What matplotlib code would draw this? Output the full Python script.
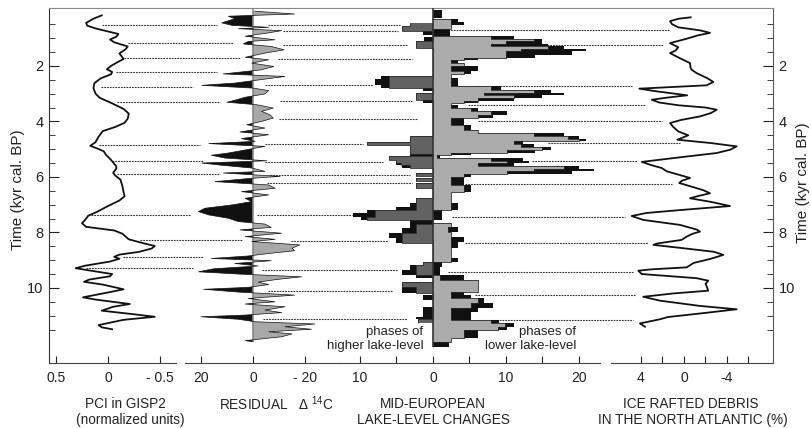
import numpy as np
import matplotlib.pyplot as plt

plt.rcParams['font.family'] = ['Liberation Sans', 'DejaVu Sans']
plt.rcParams['mathtext.fontset'] = 'custom'
plt.rcParams['mathtext.rm'] = 'Liberation Sans'

# ---- PCI in GISP2 (normalized units) ----
pci_t = [0.18, 0.30, 0.45, 0.55, 0.65, 0.75, 0.85, 0.95, 1.05, 1.15, 1.30, 1.40, 1.55, 1.65,
         1.75, 1.87, 2.00, 2.12, 2.22, 2.30, 2.45, 2.62, 2.80, 3.00, 3.15, 3.35, 3.55, 3.72,
         3.90, 4.05, 4.20, 4.35, 4.55, 4.75, 4.88, 4.98, 5.08, 5.20, 5.35, 5.48, 5.62, 5.70,
         5.85, 5.95, 6.10, 6.35, 6.55, 6.70, 6.85, 7.05, 7.25, 7.40, 7.55, 7.67, 7.80, 7.93,
         8.05, 8.12, 8.25, 8.38, 8.49, 8.58, 8.70, 8.80, 8.88, 8.95, 9.05, 9.20, 9.29, 9.37,
         9.50, 9.58, 9.70, 9.78, 9.88, 10.05, 10.15, 10.34, 10.42, 10.58, 10.68, 10.82, 10.95,
         11.04, 11.15, 11.34, 11.42, 11.49]
pci_v = [0.06, 0.14, 0.21, 0.20, 0.12, 0.01, -0.10, -0.08, -0.02, -0.06, -0.19, -0.17, -0.11,
         -0.13, -0.15, -0.09, -0.03, 0.01, -0.04, -0.03, 0.07, 0.13, 0.14, 0.12, 0.08, -0.04,
         -0.15, -0.20, -0.19, -0.16, -0.07, 0.05, 0.09, 0.12, 0.17, 0.10, 0.04, 0.02, -0.02,
         -0.05, -0.08, -0.08, -0.05, -0.07, -0.12, -0.14, -0.15, -0.16, -0.11, 0.00, 0.10, 0.19,
         0.22, 0.25, 0.21, -0.06, -0.14, -0.16, -0.20, -0.33, -0.45, -0.42, -0.30, -0.11, -0.06,
         -0.11, -0.02, 0.22, 0.31, 0.18, -0.04, -0.02, 0.18, 0.23, 0.05, -0.15, -0.02, 0.24,
         0.12, -0.21, -0.05, 0.06, -0.25, -0.45, -0.15, 0.09, 0.06, -0.04]

# ---- Residual delta 14C ----
res_t = [0.03, 0.13, 0.21, 0.30, 0.45, 0.54, 0.61, 0.66, 0.73, 0.81, 0.93, 1.06, 1.12, 1.21,
         1.30, 1.42, 1.54, 1.69, 1.78, 1.90, 2.02, 2.14, 2.29, 2.38, 2.50, 2.62, 2.70, 2.80,
         2.89, 3.01, 3.13, 3.22, 3.31, 3.40, 3.52, 3.64, 3.76, 3.88, 4.00, 4.12, 4.24, 4.38,
         4.48, 4.62, 4.72, 4.80, 4.90, 5.02, 5.14, 5.22, 5.32, 5.42, 5.50, 5.58, 5.68, 5.80,
         5.86, 5.98, 6.06, 6.17, 6.29, 6.41, 6.53, 6.65, 6.77, 6.89, 7.01, 7.13, 7.25, 7.37,
         7.49, 7.61, 7.70, 7.82, 7.91, 8.03, 8.15, 8.25, 8.33, 8.45, 8.57, 8.66, 8.76, 8.85,
         8.94, 9.02, 9.12, 9.21, 9.31, 9.42, 9.50, 9.60, 9.69, 9.79, 9.88, 9.98, 10.05, 10.15,
         10.26, 10.38, 10.50, 10.58, 10.68, 10.80, 10.89, 10.98, 11.04, 11.13, 11.22, 11.30,
         11.40, 11.49, 11.58, 11.66, 11.76, 11.85, 11.90, 11.94]
res_v = [-0.8, -16, 9.5, 7, 12, 8, -6, 5.6, -11, -6, 3, -8.5, 1.8, 3.7, -7, -12, -4.6, 3, -6,
         0.5, -8, -3.3, 11.4, -12.3, -2.7, 7, 19.7, 0, -6, -4.6, 3, 6.3, 10, -1.4, -7.8, -3.3,
         -6.5, -7.8, -3.3, 2.4, -4.6, 5, -6, 4.4, -0.8, 17, -4.6, 2.4, 9.5, 16, 10.8, -5.3,
         19.7, 12, 0.5, -4.6, 11.4, -10.4, 1.8, 14.6, -6, -8.5, 4.4, -6, 3, 0.5, 8, 18.5, 21,
         17, 9.5, 5.6, -4.6, -7, 5, -11, 3, -8.5, 0.5, -18, -15, -16, -6, 1.8, 16, -7, 7, -2,
         15, 21, 5.6, -18.7, -9.7, -2, -6, 1.8, 19, 5.6, -16, 1.8, -8.5, 3, -12.3, -4.6, -11,
         3, 20, 5.6, -0.8, -23.8, -12.3, -22.5, -6, -15, -11, -2, 3, 0]

# ---- Mid-European lake-level changes ----
low_edges = [-0.03, 0.27, 0.31, 0.42, 0.54, 0.66, 0.93, 1.02, 1.11, 1.21, 1.29, 1.38, 1.47,
             1.59, 1.71, 1.77, 1.89, 2.01, 2.17, 2.31, 2.44, 2.74, 2.86, 2.98, 3.06, 3.16,
             3.25, 3.34, 3.40, 3.52, 3.64, 3.76, 3.88, 4.00, 4.12, 4.30, 4.42, 4.54, 4.62,
             4.72, 4.81, 4.93, 5.02, 5.14, 5.22, 5.32, 5.41, 5.51, 5.61, 5.70, 5.80, 5.89,
             6.02, 6.10, 6.29, 6.53, 6.71, 6.95, 7.19, 7.31, 7.55, 7.65, 7.79, 7.97, 8.15,
             8.33, 8.57, 8.93, 9.05, 9.24, 9.54, 9.72, 10.14, 10.26, 10.38, 10.56, 10.74,
             10.86, 11.04, 11.16, 11.28, 11.40, 11.52, 11.64, 11.82, 11.94, 12.12]
low_gray = [0, 0, 2.4, 2.4, 2.4, 0, 7.9, 13.9, 10, 7.9, 15.7, 12, 10, 10, 4.3, 2.4, 4.3, 2.4,
            4.3, 2.4, 2.4, 7.9, 13.9, 7.0, 11.1, 6.1, 4.3, 2.4, 2.4, 5.2, 7.9, 6.1, 2.4, 2.4,
            4.3, 6.1, 13.9, 18.5, 20, 11.1, 12, 15, 10.2, 2.4, 0.5, 7.9, 10.2, 6.1, 18, 13.9,
            10.2, 4.3, 2.4, 2.4, 4.3, 2.4, 2.4, 2.4, 0, 0, 0, 2.4, 2.0, 2.4, 2.4, 2.4, 2.4,
            2.4, 0, 0, 1.0, 6.1, 2.4, 2.4, 6.1, 5.2, 2.4, 2.4, 2.4, 7.9, 9.8, 8.9, 4.3, 4.3,
            2.4, 0]
low_black = [1.3, 0, 3.4, 4.3, 2.4, 2.3, 11.1, 15, 15, 15.7, 18, 21, 19.1, 14, 6.1, 3.4, 4.3,
             6.1, 5.2, 2.4, 3.4, 9.3, 16.2, 18, 15, 11.1, 6.1, 2.4, 3.4, 6.1, 10.2, 8.2, 4.3,
             4.3, 5.2, 6.1, 18, 20, 21, 12.3, 13.9, 16.2, 14, 5.2, 1.0, 12.3, 13.2, 11.1, 20,
             22, 19.1, 5.2, 4.3, 4.3, 5.2, 2.4, 2.4, 3.4, 1.3, 1.3, 0, 2.4, 3.4, 2.4, 4.3, 3.4,
             2.4, 3.4, 1.3, 1.0, 4.3, 6.1, 4.3, 5.2, 7.0, 8.2, 6.1, 5.2, 5.2, 9.1, 11.1, 10.2,
             6.1, 6.1, 2.4, 2.2]

high_edges = [0.45, 0.57, 0.75, 0.87, 0.97, 1.09, 1.35, 2.38, 2.46, 2.68, 2.80, 2.89, 2.98,
              3.22, 3.34, 4.54, 4.72, 4.76, 4.84, 4.96, 5.16, 5.26, 5.38, 5.50, 5.56, 5.68,
              5.86, 5.98, 6.04, 6.16, 6.22, 6.40, 6.77, 6.95, 7.07, 7.19, 7.31, 7.43, 7.55,
              7.70, 7.85, 8.03, 8.21, 8.39, 9.05, 9.17, 9.36, 9.54, 9.66, 9.78, 9.96, 10.20,
              10.26, 10.44, 10.68, 11.04, 11.13, 11.25]
high_dark = [3.2, 4.2, 0, 0, 0, 2.3, 0, 6.0, 6.0, 6.0, 0, 0, 2.3, 0, 0, 3.2, 3.2, 9.0, 3.2,
             3.2, 0, 6.0, 5.1, 4.4, 3.2, 0, 2.3, 0, 2.3, 0, 2.3, 0, 2.3, 2.3, 2.3, 8.0, 8.0,
             9.0, 0, 2.3, 2.3, 4.2, 4.2, 0, 1.4, 2.3, 2.3, 0, 0, 4.2, 2.3, 0, 0, 0, 0, 0, 2.1]
high_black = [3.2, 4.2, 1.4, 0, 1.3, 2.3, 0, 7.1, 8.0, 7.1, 1.4, 0, 2.3, 1.4, 0, 3.2, 3.2,
              9.0, 3.2, 3.2, 3.2, 6.0, 5.1, 5.1, 4.2, 0, 2.3, 0, 2.3, 0, 2.3, 0, 2.3, 3.2,
              5.1, 9.0, 11.0, 9.9, 3.2, 3.2, 4.2, 6.0, 5.1, 0, 1.4, 3.2, 4.2, 2.3, 0, 4.2,
              4.2, 0, 1.4, 0, 1.4, 2.3, 2.1]

# ---- Ice rafted debris in the North Atlantic (%) ----
ird_t = [0.25, 0.30, 0.39, 0.50, 0.61, 0.72, 0.81, 0.90, 1.02, 1.18, 1.33, 1.45, 1.54, 1.70,
         1.90, 2.05, 2.14, 2.26, 2.45, 2.58, 2.70, 2.75, 2.82, 2.92, 3.06, 3.14, 3.22, 3.32,
         3.42, 3.50, 3.58, 3.70, 3.82, 3.95, 4.06, 4.20, 4.36, 4.50, 4.58, 4.66, 4.78, 4.90,
         5.02, 5.14, 5.30, 5.46, 5.58, 5.68, 5.80, 5.92, 6.04, 6.14, 6.22, 6.37, 6.48, 6.59,
         6.70, 6.77, 6.90, 7.05, 7.20, 7.30, 7.41, 7.55, 7.73, 7.90, 7.97, 8.05, 8.15, 8.27,
         8.40, 8.45, 8.57, 8.70, 8.81, 8.95, 9.10, 9.26, 9.33, 9.38, 9.50, 9.65, 9.74, 9.85,
         9.93, 10.10, 10.20, 10.32, 10.46, 10.65, 10.77, 10.90, 11.05, 11.13, 11.28, 11.40]
ird_v = [-0.62, 0.5, 1.3, 1.1, 0.53, -1.5, -2.42, -1.3, -0.25, 1.3, 0.53, 0.8, 1.3, 0.5,
         -0.56, -0.6, -0.71, -1.18, -2.2, -2.73, -2.1, 0.5, 4.16, 2.5, -0.3, 1.5, 3.0, 2.3,
         0.5, -2.0, -3.04, -2.5, -1.5, 0.3, 1.3, 1.0, 0.53, -0.4, 0.1, 0.62, -2.5, -4.9,
         -4.3, -3.04, 0.5, 3.93, 3.0, 2.07, 1.6, 0.5, -0.56, 0.2, 0.44, -0.87, -1.8, -2.42,
         -1.2, -0.56, -2.5, -4.28, 0.5, 3.5, 4.87, 3.79, 0.37, -1.2, -1.49, -0.8, -0.25,
         0.22, 2.5, 2.85, 0.06, -2.8, -3.66, -2.5, -0.9, -0.25, 3.0, 4.25, 3.93, -1.18,
         -2.26, -2.0, -2.1, -2.26, 1.0, 3.79, 2.23, -1.5, -4.9, -2.0, 1.5, 2.23, 4.1, 3.63]

# ---- dotted correlation lines: time, start value, end value ----
c1_t = [0.515, 1.175, 1.733, 2.238, 2.771, 3.312, 4.840, 5.438, 5.888, 7.373, 8.274, 8.897, 9.294]
c1_pci = [0.058, -0.192, -0.154, -0.077, 0.067, -0.087, 0.087, -0.038, -0.087, 0.163, -0.308, -0.144, 0.212]
c1_res = [13.8, 7.7, 5.0, 13.8, 23.1, 12.7, 20.4, 19.2, 12.7, 24.2, 4.2, 19.2, 23.1]

c2_t = [0.544, 0.753, 1.236, 1.741, 2.699, 3.276, 3.903, 4.804, 5.474, 5.921, 6.202, 7.373,
        8.310, 9.355, 10.101, 11.121]
c2_res = [-5.8, -11.5, -11.5, -9.6, -4.6, -10.4, -10, -4.6, -4.6, -6.5, -5.4, -1.5, -14.6,
          -3.5, -5.8, -3.8]
c2_lake = [-4.5, -4.8, -3.4, -2.9, -8.2, -2.9, -2.1, -9.6, -6.8, -3.2, -2.9, -11.1, -6.2,
           -4.9, -5.5, -3.6]

c3_t = [0.724, 1.247, 2.717, 3.420, 3.996, 4.778, 5.427, 6.238, 7.463, 8.382, 9.416, 10.267, 11.139]
c3_lake = [1.6, 15.6, 5.8, 4.8, 6.2, 15.8, 13.6, 4.4, 2.6, 4.4, 2.1, 5.8, 6.0]
c3_ird = [1.3, 1.95, 4.84, 3.63, 2.05, 0.37, 4.37, 1.12, 5.49, 3.35, 4.74, 4.56, 4.74]

W, H = 811, 428
T_TOP, T_BOT = -0.086, 12.706
INK = '#222222'

fig = plt.figure(figsize=(W / 100, H / 100), dpi=100)


def box(x0, x1, y0=8, y1=363):
    return [x0 / W, 1 - y1 / H, (x1 - x0) / W, (y1 - y0) / H]


# outer frame with the time axis on both sides
frame = fig.add_axes(box(49, 773))
frame.set_xlim(0, 1)
frame.set_ylim(T_BOT, T_TOP)
frame.set_xticks([])
frame.spines['bottom'].set_visible(False)
frame.spines['top'].set_color('#888888')
frame.spines['left'].set_color('#333333')
frame.spines['right'].set_color('#555555')
frame.set_yticks([2, 4, 6, 8, 10])
frame.set_yticks(np.arange(0.5, 12.0, 0.5), minor=True)
frame.tick_params(axis='y', which='both', direction='in', left=True, right=True,
                  labelleft=True, labelright=True, labelsize=10.5, colors=INK, pad=4)
frame.tick_params(axis='y', which='major', length=7)
frame.tick_params(axis='y', which='minor', length=4)


def panel(x0, x1, xlim, ticks, labels):
    ax = fig.add_axes(box(x0, x1))
    ax.patch.set_alpha(0)
    ax.set_xlim(*xlim)
    ax.set_ylim(T_BOT, T_TOP)
    for s in ['top', 'left', 'right']:
        ax.spines[s].set_visible(False)
    ax.spines['bottom'].set_color('#444444')
    ax.set_yticks([])
    ax.set_xticks(ticks)
    ax.set_xticklabels(labels)
    ax.tick_params(axis='x', direction='in', length=5, labelsize=10, pad=6, colors=INK)
    return ax


ax_pci = panel(49, 176, (0.567, -0.654), [0.5, 0, -0.5], ['0.5', '0', '- 0.5'])
ax_res = panel(185, 340, (26.15, -33.46), [20, 0, -20], ['20', '0', '- 20'])
ax_lake = panel(340, 600, (-12.74, 22.88), [-10, -5, 0, 5, 10, 15, 20],
                ['10', '', '0', '', '10', '', '20'])
ax_ird = panel(611, 773, (6.79, -8.28), [4, 2, 0, -2, -4, -6], ['4', '', '0', '', '-4', ''])

# curves
ax_pci.plot(pci_v, pci_t, color='#111111', lw=1.3)
ax_ird.plot(ird_v, ird_t, color='#111111', lw=1.3)

# residual 14C
rt = np.array(res_t)
rv = np.array(res_v)
ax_res.vlines(0, T_TOP, rt[-1], color='#888888', lw=1.2)
ax_res.fill_betweenx(rt, 0, rv, where=rv >= 0, interpolate=True, color='#111111', lw=0)
ax_res.fill_betweenx(rt, 0, rv, where=rv <= 0, interpolate=True, color='#a8a8a8', lw=0)
ax_res.plot(rv, rt, color='#111111', lw=0.5)


# lake-level histograms: black totals behind, grey parts in front with a thin outline
def hist(ax, edges, back, front, sign, front_color):
    e = np.array(edges)
    ax.stairs(sign * np.array(back), e, orientation='horizontal', baseline=0, fill=True,
              color='#111111', lw=0)
    ax.stairs(sign * np.array(front), e, orientation='horizontal', baseline=0, fill=True,
              color=front_color, lw=0)
    ax.stairs(sign * np.array(front), e, orientation='horizontal', baseline=None,
              color='#2a2a2a', lw=0.6)


hist(ax_lake, low_edges, low_black, low_gray, 1, '#ababab')
hist(ax_lake, high_edges, high_black, high_dark, -1, '#626262')
ax_lake.vlines(0, T_TOP, low_edges[-1], color='#333333', lw=1.2)

ax_lake.text(-1.3, 11.84, 'phases of\nhigher lake-level', ha='right', va='center',
             fontsize=9.5, color=INK, linespacing=1.25)
ax_lake.text(19.6, 11.84, 'phases of\nlower lake-level', ha='right', va='center',
             fontsize=9.5, color=INK, linespacing=1.25)


# dotted correlation lines drawn on the frame
def to_frame(ax, x):
    xd = ax.transData.transform((x, 0))[0]
    return frame.transAxes.inverted().transform((xd, 0))[0]


def links(ts, a0, x0s, a1, x1s):
    for t, x0, x1 in zip(ts, x0s, x1s):
        frame.plot([to_frame(a0, x0), to_frame(a1, x1)], [t, t],
                   transform=frame.get_yaxis_transform(), color='#333333',
                   lw=0.8, ls=(0, (1.6, 0.9)))


links(c1_t, ax_pci, c1_pci, ax_res, c1_res)
links(c2_t, ax_res, c2_res, ax_lake, c2_lake)
links(c3_t, ax_lake, c3_lake, ax_ird, c3_ird)

# labels
fig.text(18 / W, 1 - 190 / H, 'Time (kyr cal. BP)', rotation=90, ha='center', va='center',
         fontsize=11, color=INK)
fig.text(803 / W, 1 - 183 / H, 'Time (kyr cal. BP)', rotation=90, ha='center', va='center',
         fontsize=11, color=INK)

lab = dict(ha='center', va='center', fontsize=9.8, color=INK)
fig.text(125 / W, 1 - 404 / H, 'PCI in GISP2', **lab)
fig.text(130 / W, 1 - 420 / H, '(normalized units)', **lab)
fig.text(276 / W, 1 - 404 / H, 'RESIDUAL   \u0394 $^{14}$C', **lab)
fig.text(433 / W, 1 - 404 / H, 'MID-EUROPEAN', **lab)
fig.text(433 / W, 1 - 420 / H, 'LAKE-LEVEL CHANGES', **lab)
fig.text(691 / W, 1 - 404 / H, 'ICE RAFTED DEBRIS', **lab)
fig.text(693 / W, 1 - 420 / H, 'IN THE NORTH ATLANTIC (%)', **lab)

fig.savefig('out.png', dpi=100)
